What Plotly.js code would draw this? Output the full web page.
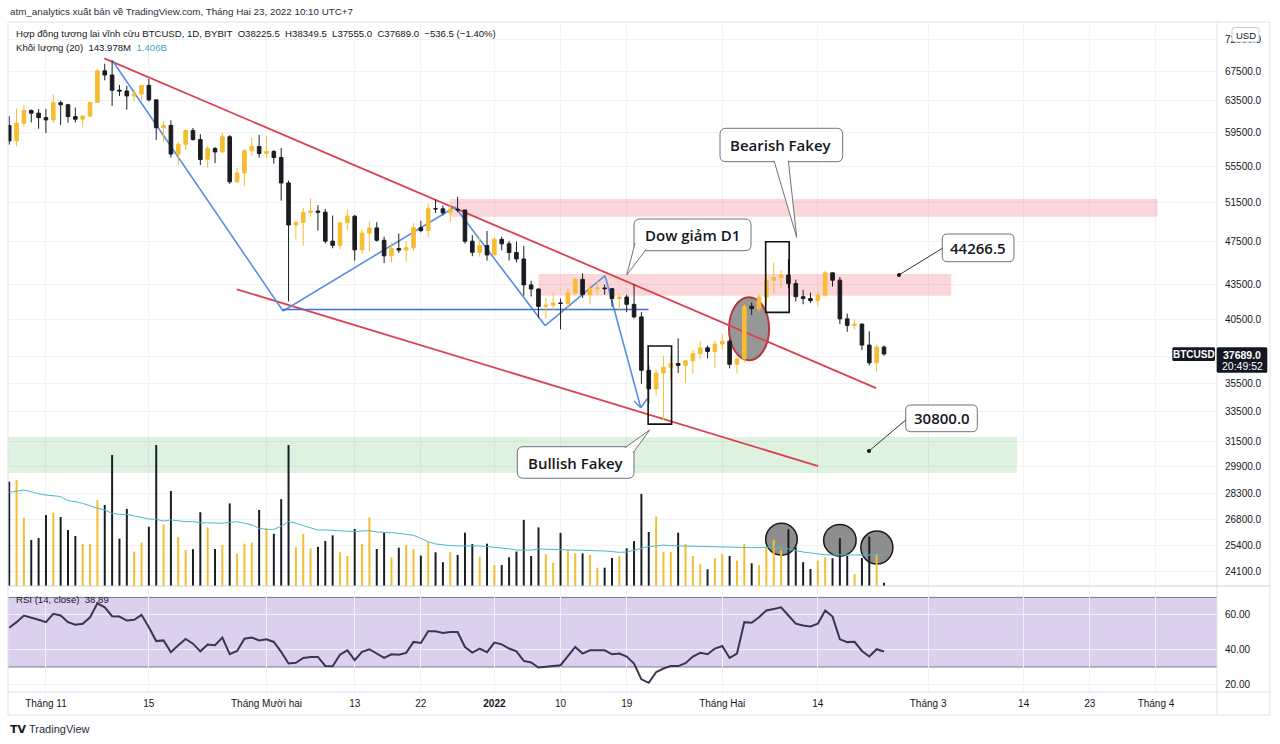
<!doctype html>
<html lang="vi">
<head>
<meta charset="UTF-8" />
<title>BTCUSD 1D - BYBIT</title>
<script src="https://cdn.plot.ly/plotly-3.0.1.min.js"></script>
<style>
  html, body { margin: 0; padding: 0; background: #ffffff; }
  #chart { width: 1280px; height: 744px; }
</style>
</head>
<body>
<div id="chart"></div>
<script>
// Daily candles, first bar 2021-10-27, last bar 2022-02-23 (BYBIT BTCUSD)
const firstDay = "2021-10-27";
const open = [60330,58455,60622,62228,61889,61319,61029,63226,62971,61452,61125,61527,63273,67525,66947,64882,64774,64122,64380,65519,
  63606,60058,60344,56891,58052,59707,58622,56247,57541,57138,58960,53726,54721,57274,57776,56950,57184,56480,53601,49152,
  49396,50441,50589,50471,47545,47140,49389,50053,46702,48343,48864,47632,46131,46834,46681,46914,48889,48588,50838,50820,
  50400,50775,50701,47543,46464,47120,46216,47722,47286,46446,45832,43451,43082,41566,41679,41864,41822,42735,43949,42591,
  43099,43177,43113,42250,42375,41744,40680,36445,35071,36244,36660,36958,36809,37161,37712,38166,37881,38466,38691,36897,
  37311,41574,41383,42380,43840,44118,44338,43565,42407,42244,42064,42535,44544,43873,40515,39974,40079,38386,37008,38225.5];
const high = [61496,62499,62960,62359,62406,62419,64270,63500,63086,62599,61600,63286,67789,68524,69000,65600,65460,65000,65550,66401,
  63617,60840,60976,58320,59845,60029,59266,57875,57735,59398,59150,55280,57445,58865,59176,59053,57375,57600,53859,49699,
  50891,51936,51200,50797,50125,49485,50800,50189,48700,49500,49436,47995,47392,48300,47537,49328,49576,51375,51810,51156,
  51280,52088,50704,48139,47879,48548,47954,47990,47570,47505,47070,43816,43145,42300,42786,42248,43100,44135,44500,43448,
  43800,43478,43176,42691,42575,43505,41100,36835,36499,37550,37545,38919,37234,38000,38720,38359,38744,39265,38855,37387,
  41772,41913,42656,44500,45492,44799,45821,43920,43000,42760,42876,44751,44549,44164,40959,40444,40125,39494,38429,38349.5];
const low = [58000,57820,60174,60723,59944,59405,60624,60382,60677,60721,60125,61387,63273,66222,62822,64100,62333,63360,63576,63400,
  58575,58373,56474,55600,57353,58486,55610,55317,55837,57000,53500,53610,53256,56666,56476,56458,55777,51680,42000,47727,
  47100,50039,48600,47320,46852,46751,48638,45672,46290,46547,47511,45456,45500,46406,45558,46630,48421,47920,50384,50142,
  49412,50449,47313,46096,46060,45678,46208,46654,45696,45502,42500,42430,40610,40501,41200,39650,41268,42528,42311,41725,
  42555,42581,41540,41250,41077,40553,35440,34008,34601,32917,35701,36234,35507,36155,37268,37351,36632,38000,36586,36250,
  37026,40843,41116,41645,42666,43117,43174,42000,41748,41870,41570,42427,43307,40073,39450,39639,38000,36800,36350,37555];
const close = [58455,60622,62228,61889,61319,61029,63226,62971,61452,61125,61527,63273,67525,66947,64882,64774,64122,64380,65519,63606,
  60058,60344,56891,58052,59707,58622,56247,57541,57138,58960,53726,54721,57274,57776,56950,57184,56480,53601,49152,49396,
  50441,50589,50471,47545,47140,49389,50053,46702,48343,48864,47632,46131,46834,46681,46914,48889,48588,50838,50820,50400,
  50775,50701,47543,46464,47120,46216,47722,47286,46446,45832,43451,43082,41566,41679,41864,41822,42735,43949,42591,43099,
  43177,43113,42250,42375,41744,40680,36445,35071,36244,36660,36958,36809,37161,37712,38166,37881,38466,38691,36897,37311,
  41574,41383,42380,43840,44118,44338,43565,42407,42244,42064,42535,44544,43873,40515,39974,40079,38386,37008,38225.5,37689];

// Volume (billions of USD contracts) and its 20-day average
const volume = [4.74,4.81,3.10,2.09,2.18,3.22,3.33,3.13,2.54,2.27,1.91,1.91,3.90,3.68,5.95,2.15,3.50,1.56,1.97,2.69,
  6.40,2.80,4.31,2.22,1.63,1.67,3.35,2.66,1.68,1.86,3.75,1.47,1.92,1.97,3.45,2.63,2.37,3.94,6.40,1.77,
  2.37,1.71,1.78,2.04,2.30,1.53,1.36,2.59,1.91,3.12,1.68,2.42,1.30,1.74,1.86,1.68,1.38,2.00,1.53,1.08,
  1.53,1.41,2.42,1.91,1.33,1.92,0.95,0.95,1.30,1.56,3.00,1.36,2.66,1.44,1.06,2.41,1.63,1.48,1.48,1.41,
  0.83,0.83,1.27,1.36,1.71,2.04,4.18,2.45,3.15,1.54,1.54,2.42,1.91,1.36,0.99,0.76,1.27,1.45,1.36,1.15,
  1.91,1.03,0.95,1.76,2.09,1.63,2.57,1.76,1.08,0.77,1.15,1.30,1.26,2.17,1.36,0.54,1.27,2.24,1.45,0.144];
const volumeMA = [4.25,4.30,4.36,4.28,4.18,4.13,4.09,4.06,3.87,3.83,3.75,3.63,3.53,3.45,3.30,3.25,3.25,3.18,3.10,3.04,
  3.03,2.95,3.00,2.96,2.92,2.92,2.87,2.87,2.85,2.85,2.89,2.92,2.85,2.77,2.62,2.57,2.57,2.72,2.92,2.85,
  2.74,2.65,2.54,2.54,2.53,2.51,2.48,2.47,2.50,2.51,2.45,2.45,2.42,2.39,2.36,2.30,2.17,2.01,1.91,1.86,
  1.83,1.82,1.83,1.83,1.82,1.79,1.76,1.74,1.69,1.63,1.63,1.63,1.68,1.67,1.67,1.67,1.63,1.63,1.63,1.63,
  1.60,1.59,1.56,1.53,1.54,1.63,1.73,1.79,1.82,1.86,1.83,1.82,1.82,1.80,1.79,1.77,1.76,1.76,1.74,1.74,
  1.74,1.74,1.74,1.76,1.74,1.73,1.68,1.60,1.54,1.50,1.45,1.42,1.41,1.41,1.41,1.41,1.41,1.41,1.41,1.406];

// RSI (14, close)
const rsi = [52.6,55.8,59.6,58.6,57.2,55.8,60.6,59.6,55.8,54.3,54.9,58.6,66.6,64.3,59.2,59.0,56.7,57.1,60.0,52.9,
  44.9,45.3,38.5,42.5,46.1,43.4,39.0,42.9,42.5,46.9,37.3,39.2,46.3,46.9,45.3,45.9,44.4,38.7,32.0,32.4,
  35.2,35.8,35.8,30.6,30.4,37.1,39.6,33.9,38.7,40.2,37.7,35.2,37.3,37.1,38.1,44.4,43.8,50.5,50.5,49.5,
  50.1,50.1,41.5,38.3,40.6,38.5,44.0,43.0,40.6,39.0,33.5,32.6,29.7,30.1,30.9,31.0,36.3,41.5,37.7,39.6,
  39.6,39.6,37.3,37.7,36.0,32.0,22.9,20.9,27.0,29.1,30.5,30.5,32.2,36.0,38.1,37.3,40.6,42.1,35.2,37.7,
  55.8,55.4,58.6,62.5,63.4,64.3,59.6,54.9,53.9,53.3,54.9,62.5,59.0,45.9,44.3,44.5,39.2,36.0,40.2,38.89];

// Axis ticks
const priceTicks = [72000,67500,63500,59500,55500,51500,47500,43500,40500,37500,35500,33500,31500,29900,28300,26800,25400,24100];
const rsiTicks = [20, 40, 60];
const dateTicks = ["2021-11-01","2021-11-15","2021-12-01","2021-12-13","2021-12-22","2022-01-01","2022-01-10","2022-01-19",
  "2022-02-01","2022-02-14","2022-03-01","2022-03-14","2022-03-23","2022-04-01"];
const dateLabels = ["Tháng 11","15","Tháng Mười hai","13","22","<b>2022</b>","10","19","Tháng Hai","14","Tháng 3","14","23","Tháng 4"];

const UP = "#f5be32";
const DN = "#1b1c22";
const DAY = 86400000;
const t0 = Date.parse(firstDay + "T00:00:00Z");
const dates = close.map((_, i) => new Date(t0 + i * DAY).toISOString().slice(0, 10));
const volColors = close.map((c, i) => (c >= open[i] ? UP : DN));

const traces = [
  {
    type: "candlestick", x: dates, open: open, high: high, low: low, close: close,
    xaxis: "x", yaxis: "y", whiskerwidth: 0, hoverinfo: "skip",
    increasing: { line: { color: UP, width: 1 }, fillcolor: UP },
    decreasing: { line: { color: DN, width: 1 }, fillcolor: DN },
  },
  {
    type: "bar", x: dates, y: volume, xaxis: "x", yaxis: "y2",
    width: 0.27 * DAY, marker: { color: volColors, line: { width: 0 } }, hoverinfo: "skip",
  },
  {
    type: "scatter", mode: "lines", x: dates, y: volumeMA, xaxis: "x", yaxis: "y2",
    line: { color: "#4db8cc", width: 1 }, hoverinfo: "skip",
  },
  {
    type: "scatter", mode: "lines", x: dates, y: rsi, xaxis: "x", yaxis: "y3",
    line: { color: "#3d3452", width: 2 }, hoverinfo: "skip",
  },
];

// --- drawings (positions in date / price) ---
const RED = "#d9434f", BLUE = "#5b8de6";
function seg(a, b, color, width) {
  return { type: "line", xref: "x", yref: "y", x0: a[0], y0: a[1], x1: b[0], y1: b[1],
    line: { color: color, width: width }, layer: "between" };
}
function box(x0, x1, y0, y1, fill) {
  return { type: "rect", xref: "x", yref: "y", x0: x0, x1: x1, y0: y0, y1: y1,
    fillcolor: fill, line: { width: 0 }, layer: "between" };
}
function ring(x0, x1, y0, y1) {
  return { type: "circle", xref: "x", yref: "y", x0: x0, x1: x1, y0: y0, y1: y1,
    fillcolor: "#8e8e8e", line: { color: "#1a1a1a", width: 1.5 }, layer: "between" };
}
const zig = [["2021-11-10 02:00", 68900], ["2021-12-03 06:00", 41175], ["2021-12-26 15:40", 51010],
  ["2022-01-07 22:00", 39950], ["2022-01-16 01:30", 44280], ["2022-01-20 22:00", 33740]];

const shapes = [
  box("2021-12-25 23:00", "2022-04-01 05:00", 50000, 51860, "rgba(242,54,69,0.2)"),
  box("2022-01-07 00:00", "2022-03-04 03:20", 42490, 44430, "rgba(242,54,69,0.2)"),
  box("2021-10-26 20:00", "2022-03-13 02:30", 29490, 31760, "rgba(76,175,80,0.18)"),
  // RSI band
  { type: "rect", xref: "paper", yref: "y3", x0: 0, x1: 1, y0: 30, y1: 70, fillcolor: "rgba(126,87,194,0.28)", line: { width: 0 }, layer: "between" },
  { type: "line", xref: "paper", yref: "y3", x0: 0, x1: 1, y0: 70, y1: 70, line: { color: "#7d7892", width: 1 }, layer: "between" },
  { type: "line", xref: "paper", yref: "y3", x0: 0, x1: 1, y0: 30, y1: 30, line: { color: "#7d7892", width: 1 }, layer: "between" },
  // ellipse around breakout candle
  { type: "circle", xref: "x", yref: "y", x0: "2022-02-01 22:00", x1: "2022-02-07 09:00", y0: 37200, y1: 42360,
    fillcolor: "rgba(128,128,128,0.82)", line: { color: "#b5383c", width: 2 }, layer: "between" },
  // circles marking volume spikes (drawn in the lower part of the price pane)
  ring("2022-02-06 21:40", "2022-02-11 04:50", 24900, 26590),
  ring("2022-02-14 19:00", "2022-02-19 05:00", 24850, 26530),
  ring("2022-02-19 20:30", "2022-02-24 05:00", 24450, 26170),
  // channel
  seg(["2021-11-08 22:30", 69290], ["2022-02-21 22:20", 35130], RED, 1.8),
  seg(["2021-11-26 22:50", 43060], ["2022-02-14 01:00", 29920], RED, 1.8),
  // dow zigzag
  seg(zig[0], zig[1], BLUE, 1.6), seg(zig[1], zig[2], BLUE, 1.6), seg(zig[2], zig[3], BLUE, 1.6),
  seg(zig[3], zig[4], BLUE, 1.6), seg(zig[4], zig[5], BLUE, 1.6),
  seg(["2022-01-19 23:45", 34210], zig[5], BLUE, 1.6), seg(["2022-01-21 19:40", 34390], zig[5], BLUE, 1.6),
  seg(["2021-12-03 06:00", 41300], ["2022-01-21 23:00", 41300], "#3f6fd1", 1.6),
  // fakey boxes
  { type: "rect", xref: "x", yref: "y", x0: "2022-01-21 22:00", x1: "2022-01-25 02:30", y0: 32620, y1: 38310, line: { color: "#111111", width: 1.6 }, layer: "above" },
  { type: "rect", xref: "x", yref: "y", x0: "2022-02-06 21:40", x1: "2022-02-10 02:30", y0: 41060, y1: 47490, line: { color: "#111111", width: 1.6 }, layer: "above" },
];

// --- screen decorations (pixel -> paper) ---
const PL = 8, PR = 1217, PT = 22, PB = 692;
const px = (x) => (x - PL) / (PR - PL);
const py = (y) => (PB - y) / (PB - PT);
const pt = (x, y) => px(x).toFixed(5) + "," + py(y).toFixed(5);
function roundRect(x0, y0, x1, y1, r, fill, stroke) {
  const d = "M" + pt(x0 + r, y0) + "L" + pt(x1 - r, y0) + "Q" + pt(x1, y0) + " " + pt(x1, y0 + r) +
    "L" + pt(x1, y1 - r) + "Q" + pt(x1, y1) + " " + pt(x1 - r, y1) +
    "L" + pt(x0 + r, y1) + "Q" + pt(x0, y1) + " " + pt(x0, y1 - r) +
    "L" + pt(x0, y0 + r) + "Q" + pt(x0, y0) + " " + pt(x0 + r, y0) + "Z";
  return { type: "path", xref: "paper", yref: "paper", path: d, fillcolor: fill,
    line: { color: stroke || fill, width: stroke ? 1 : 0 }, layer: "above" };
}
function pointer(a, tip, b) {
  return { type: "path", xref: "paper", yref: "paper", path: "M" + pt(a[0], a[1]) + "L" + pt(tip[0], tip[1]) + "L" + pt(b[0], b[1]),
    fillcolor: "#ffffff", line: { color: "#6f727c", width: 1 }, layer: "above" };
}
function pline(x0, y0, x1, y1, color, w) {
  return { type: "line", xref: "paper", yref: "paper", x0: px(x0), y0: py(y0), x1: px(x1), y1: py(y1),
    line: { color: color, width: w || 1 }, layer: "above" };
}
function dot(x, y) {
  return { type: "circle", xref: "paper", yref: "paper", x0: px(x - 2), x1: px(x + 2), y0: py(y - 2), y1: py(y + 2),
    fillcolor: "#111111", line: { width: 0 }, layer: "above" };
}
const BOX = "#6f727c";
shapes.push(
  roundRect(720, 128.3, 842.7, 161.7, 6, "#ffffff", BOX), pointer([774, 160.6], [796.7, 237.3], [788.3, 160.6]),
  roundRect(634, 219, 751, 250.7, 6, "#ffffff", BOX), pointer([635.1, 243], [626.7, 275], [646, 249.6]),
  roundRect(517.3, 446.7, 634, 478.3, 6, "#ffffff", BOX), pointer([625, 447.8], [649.7, 430], [632.9, 453]),
  roundRect(942.3, 234, 1014, 261.7, 5, "#ffffff", BOX), pline(942.3, 248.3, 899, 275, "#333333"), dot(899, 275),
  roundRect(905.7, 405, 977.3, 431.7, 5, "#ffffff", BOX), pline(905.7, 420, 869, 451, "#333333"), dot(869, 451),
  // frame
  pline(8, 22, 1270, 22, "#e0e3eb"), pline(8, 715, 1270, 715, "#e0e3eb"),
  pline(8, 22, 8, 715, "#e0e3eb"), pline(1270, 22, 1270, 715, "#e0e3eb"), pline(1217, 22, 1217, 715, "#e0e3eb"),
  pline(8, 586, 1270, 586, "#d1d4dc"), pline(8, 692, 1270, 692, "#e0e3eb"),
  // right side labels
  roundRect(1172.3, 347.3, 1215, 361, 1.5, "#131722"),
  roundRect(1216.7, 347.3, 1267.3, 372.7, 1.5, "#131722"),
  roundRect(1232, 27.5, 1259, 42, 3, "#ffffff", "#c9ccd4")
);

const TXT = "#131722";
function label(x, y, text, opts) {
  return Object.assign({ xref: "paper", yref: "paper", x: px(x), y: py(y), text: text, showarrow: false,
    xanchor: "left", yanchor: "middle", font: { size: 9.6, color: TXT } }, opts || {});
}
const callFont = { family: "Open Sans, sans-serif", size: 15, weight: 600, color: TXT };
const sp = "\u00a0\u00a0";
const annotations = [
  label(8, 12, "atm_analytics xuất bản về TradingView.com, Tháng Hai 23, 2022 10:10 UTC+7", { font: { size: 9.8, color: "#2a2e39" } }),
  label(14, 34, "Hợp đồng tương lai vĩnh cửu BTCUSD, 1D, BYBIT" + sp + "O38225.5" + sp + "H38349.5" + sp + "L37555.0" + sp + "C37689.0" + sp + "−536.5 (−1.40%)"),
  label(14, 47, "Khối lượng (20)" + sp + "143.978M" + sp + "<span style='color:#3fa8c6'>1.406B</span>"),
  label(14, 599, "RSI (14, close)" + sp + "38.89"),
  label(781.3, 145, "Bearish Fakey", { xanchor: "center", font: callFont }),
  label(692.5, 234.8, "Dow giảm D1", { xanchor: "center", font: callFont }),
  label(575.7, 462.5, "Bullish Fakey", { xanchor: "center", font: callFont }),
  label(978.2, 248, "44266.5", { xanchor: "center", font: callFont }),
  label(941.5, 418.3, "30800.0", { xanchor: "center", font: callFont }),
  label(1193.6, 354.2, "<b>BTCUSD</b>", { xanchor: "center", font: { size: 10, color: "#ffffff" } }),
  label(1242, 354.5, "<b>37689.0</b>", { xanchor: "center", font: { size: 10.5, color: "#ffffff" } }),
  label(1242, 366, "20:49:52", { xanchor: "center", font: { size: 10.5, color: "#ffffff" } }),
  label(1245.5, 35, "USD", { xanchor: "center", font: { size: 9.5, color: TXT } }),
  label(8, 729, "<b>TV</b>", { font: { family: "DejaVu Sans, sans-serif", size: 11, color: TXT } }),
  label(27, 729, "TradingView", { font: { size: 11, color: "#2a2e39" } }),
];

const grid = "#f0f2f6";
const layout = {
  width: 1280, height: 744,
  margin: { l: PL, r: 1280 - PR, t: PT, b: 744 - PB },
  paper_bgcolor: "#ffffff", plot_bgcolor: "#ffffff",
  showlegend: false, dragmode: false, hovermode: false,
  font: { family: "Liberation Sans, Arial, sans-serif", size: 10, color: TXT },
  xaxis: {
    type: "date", anchor: "y3", range: ["2021-10-26 20:06", "2022-04-09 07:12"],
    tickmode: "array", tickvals: dateTicks, ticktext: dateLabels,
    showgrid: true, gridcolor: grid, zeroline: false, showline: false, ticks: "",
    tickfont: { size: 10, color: TXT }, ticklabelstandoff: 4,
    rangeslider: { visible: false }, fixedrange: true,
  },
  yaxis: {
    type: "log", domain: [(PB - 586) / (PB - PT), 1], side: "right",
    range: [Math.log10(23370), Math.log10(74670)],
    tickmode: "array", tickvals: priceTicks,
    ticktext: priceTicks.map((v) => (v === 37500 ? "" : v.toFixed(1))),
    showgrid: true, gridcolor: grid, zeroline: false, showline: false, ticks: "",
    tickfont: { size: 10, color: TXT }, ticklabelstandoff: 7, fixedrange: true,
  },
  yaxis2: { overlaying: "y", range: [0, 25.6], visible: false, fixedrange: true },
  yaxis3: {
    domain: [0, (PB - 586) / (PB - PT) - 0.001], side: "right", range: [15.6, 76.2],
    tickmode: "array", tickvals: rsiTicks, ticktext: rsiTicks.map((v) => v.toFixed(2)),
    showgrid: true, gridcolor: grid, zeroline: false, showline: false, ticks: "",
    tickfont: { size: 10, color: TXT }, ticklabelstandoff: 7, fixedrange: true,
  },
  shapes: shapes,
  annotations: annotations,
};

Plotly.newPlot("chart", traces, layout, { displayModeBar: false, staticPlot: true });
</script>
</body>
</html>
